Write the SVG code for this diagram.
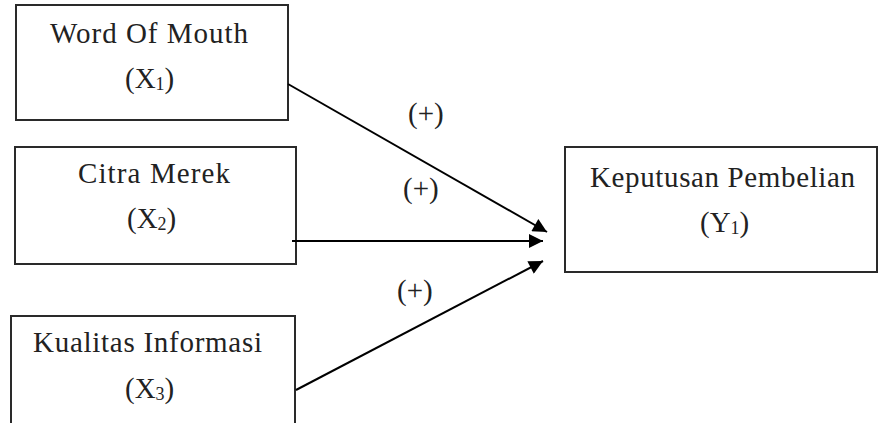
<svg xmlns="http://www.w3.org/2000/svg" width="880" height="423" viewBox="0 0 880 423">
<style>
.box{fill:#fff;stroke:#2a2a2a;stroke-width:2}
.t{font-family:"Liberation Serif","Times New Roman",serif;font-size:29px;fill:#222;text-anchor:start}
.sub{font-size:18px}
.c{stroke:#000;stroke-width:2;fill:none}
</style>
<defs>
<marker id="ah" viewBox="0 0 10 10" refX="10" refY="5" markerWidth="8" markerHeight="7" markerUnits="strokeWidth" orient="auto">
<path d="M0,0 L10,5 L0,10 z" fill="#000"/>
</marker>
</defs>
<rect width="880" height="423" fill="#fff"/>
<g id="x1">
<rect class="box" x="16" y="5" width="272" height="115"/>
<text class="t" x="50" y="43" textLength="198">Word Of Mouth</text>
<text class="t" x="125" y="88">(X<tspan class="sub" dy="2">1</tspan><tspan dy="-2">)</tspan></text>
</g>
<g id="x2">
<rect class="box" x="15" y="147" width="281" height="117"/>
<text class="t" x="78" y="183" textLength="152">Citra  Merek</text>
<text class="t" x="127" y="228">(X<tspan class="sub" dy="2">2</tspan><tspan dy="-2">)</tspan></text>
</g>
<g id="x3">
<rect class="box" x="11" y="316" width="284" height="120"/>
<text class="t" x="33" y="352" textLength="229">Kualitas  Informasi</text>
<text class="t" x="125" y="398">(X<tspan class="sub" dy="2">3</tspan><tspan dy="-2">)</tspan></text>
</g>
<g id="y1">
<rect class="box" x="565" y="147" width="312" height="125"/>
<text class="t" x="590" y="187" textLength="265">Keputusan  Pembelian</text>
<text class="t" x="700" y="232">(Y<tspan class="sub" dy="2">1</tspan><tspan dy="-2">)</tspan></text>
</g>
<g id="connectors">
<line class="c" x1="288" y1="84" x2="547" y2="232" marker-end="url(#ah)"/>
<line class="c" x1="292" y1="241" x2="543" y2="241" marker-end="url(#ah)"/>
<line class="c" x1="296" y1="390" x2="543" y2="261" marker-end="url(#ah)"/>
<text class="t" x="408" y="123">(+)</text>
<text class="t" x="403" y="198">(+)</text>
<text class="t" x="397" y="300">(+)</text>
</g>
</svg>
